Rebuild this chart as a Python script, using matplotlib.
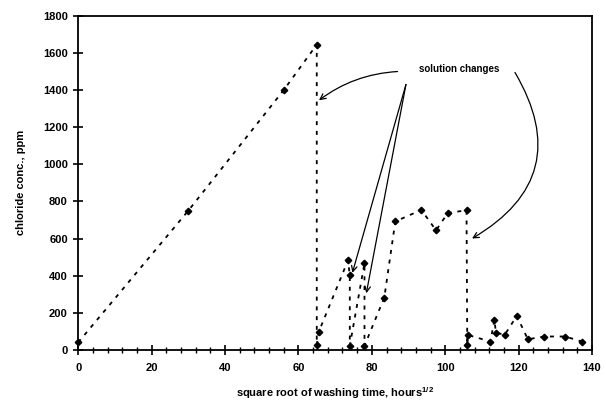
import matplotlib
matplotlib.use("Agg")
import matplotlib.pyplot as plt
from matplotlib.ticker import MultipleLocator

plt.rcParams['font.family'] = ['Liberation Sans', 'DejaVu Sans']
plt.rcParams['font.weight'] = 'bold'
plt.rcParams['mathtext.fontset'] = 'custom'
plt.rcParams['mathtext.bf'] = 'Liberation Sans:bold'
plt.rcParams['mathtext.rm'] = 'Liberation Sans:bold'

# data (square root of washing time, chloride conc. ppm)
sqrt_time = [0, 30, 56, 65, 65, 65.5, 73.5, 74, 74, 78, 78, 83.4, 86.4, 93.5,
             97.5, 100.7, 105.8, 106, 106.2, 112.3, 113.4, 113.8, 116.2,
             119.5, 122.5, 127, 132.7, 137.2]
chloride = [40, 750, 1400, 1645, 25, 95, 482, 402, 22, 467, 22, 282, 692, 754,
            644, 738, 752, 25, 80, 45, 162, 93, 81, 183, 57, 72, 72, 45]

x_ticks = [0, 20, 40, 60, 80, 100, 120, 140]
y_ticks = [0, 200, 400, 600, 800, 1000, 1200, 1400, 1600, 1800]

fig = plt.figure(figsize=(6.06, 4.17), dpi=100)
ax = fig.add_axes([0.129, 0.161, 0.848, 0.801])

ax.plot(sqrt_time, chloride, color='black', lw=1.3, linestyle=(0, (2.2, 3.2)),
        marker='D', markersize=3.3, markerfacecolor='black',
        markeredgecolor='black', clip_on=False, zorder=3)

ax.set_xlim(0, 140)
ax.set_ylim(0, 1800)
ax.set_xticks(x_ticks)
ax.set_yticks(y_ticks)
ax.xaxis.set_minor_locator(MultipleLocator(4))
ax.tick_params(axis='both', which='major', direction='inout', length=7,
               width=1.2, labelsize=8, colors='black')
ax.tick_params(axis='x', which='minor', direction='inout', length=5, width=1.0)
ax.tick_params(axis='x', which='major', pad=6)
ax.tick_params(axis='y', which='major', pad=4)
for lab in ax.get_xticklabels() + ax.get_yticklabels():
    lab.set_fontweight('bold')
for s in ax.spines.values():
    s.set_linewidth(1.3)

ax.set_xlabel(r'square root of washing time, hours$^{\mathbf{1/2}}$',
              fontsize=8, fontweight='bold', labelpad=9)
ax.set_ylabel('chloride conc., ppm', fontsize=8, fontweight='bold', labelpad=12)

# annotations
ax.text(103.7, 1514, 'solution changes', fontsize=7, fontweight='bold',
        ha='center', va='center')
aprops = dict(arrowstyle='->', color='black', lw=0.9, shrinkA=0, shrinkB=0,
              mutation_scale=10)
ax.annotate('', xy=(65.6, 1345), xytext=(87.0, 1500),
            arrowprops=dict(aprops, connectionstyle='arc3,rad=0.15'))
ax.annotate('', xy=(74.7, 415), xytext=(89.3, 1430),
            arrowprops=dict(aprops, connectionstyle='arc3,rad=0'))
ax.annotate('', xy=(78.5, 305), xytext=(89.3, 1430),
            arrowprops=dict(aprops, connectionstyle='arc3,rad=0'))
ax.annotate('', xy=(107.3, 600), xytext=(119.0, 1495),
            arrowprops=dict(aprops, connectionstyle='arc3,rad=-0.5'))

fig.savefig('out.png', dpi=100)
